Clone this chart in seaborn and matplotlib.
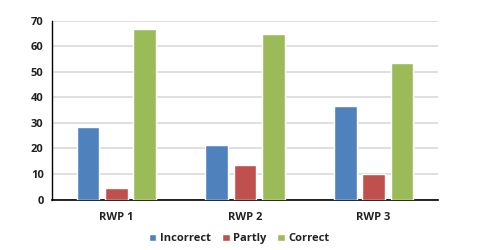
import pandas as pd
import seaborn as sns
import matplotlib.pyplot as plt

# values
rounds = ["RWP 1", "RWP 2", "RWP 3"]
answers = ["Incorrect", "Partly", "Correct"]
incorrect = [28.4, 21.4, 36.4]
partly = [4.6, 13.4, 10.0]
correct = [66.5, 64.7, 53.3]

colors = ["#4F81BD", "#C0504D", "#9BBB59"]

df = pd.DataFrame({
    "round": rounds * 3,
    "answer": [a for a in answers for _ in rounds],
    "value": incorrect + partly + correct,
})

sns.set_theme(style="white")
plt.rcParams["font.family"] = ["Open Sans", "DejaVu Sans"]

fig = plt.figure(figsize=(4.86, 2.5), dpi=100)
ax = fig.add_axes([0.107, 0.202, 0.794, 0.716])

sns.barplot(data=df, x="round", y="value", hue="answer", hue_order=answers,
            palette=colors, width=0.66, gap=0.2, saturation=1, ax=ax, zorder=3)

ax.set_ylim(0, 70)
ax.set_yticks(range(0, 71, 10))
ax.set_xlim(-0.5, 2.5)
ax.yaxis.grid(True, color="#D9D9D9", linewidth=1.2, zorder=0)
ax.set_axisbelow(True)
ax.set_xlabel("")
ax.set_ylabel("")
for side in ["top", "right"]:
    ax.spines[side].set_visible(False)
ax.spines["left"].set_color("black")
ax.spines["bottom"].set_color("black")
ax.spines["left"].set_linewidth(1.0)
ax.spines["bottom"].set_linewidth(1.2)
ax.tick_params(axis="both", length=0, labelsize=8, pad=6)
for lbl in ax.get_xticklabels() + ax.get_yticklabels():
    lbl.set_fontweight("bold")
    lbl.set_color("#222222")
ax.tick_params(axis="x", pad=9)

ax.legend(loc="center", bbox_to_anchor=(0.5 - 0.015, -0.22), ncol=3, frameon=False,
          prop={"size": 8, "weight": "bold"}, handlelength=0.7, handleheight=0.7,
          handletextpad=0.3, columnspacing=1.0)
for t in ax.get_legend().get_texts():
    t.set_color("#222222")

fig.savefig("out.png", dpi=100)
